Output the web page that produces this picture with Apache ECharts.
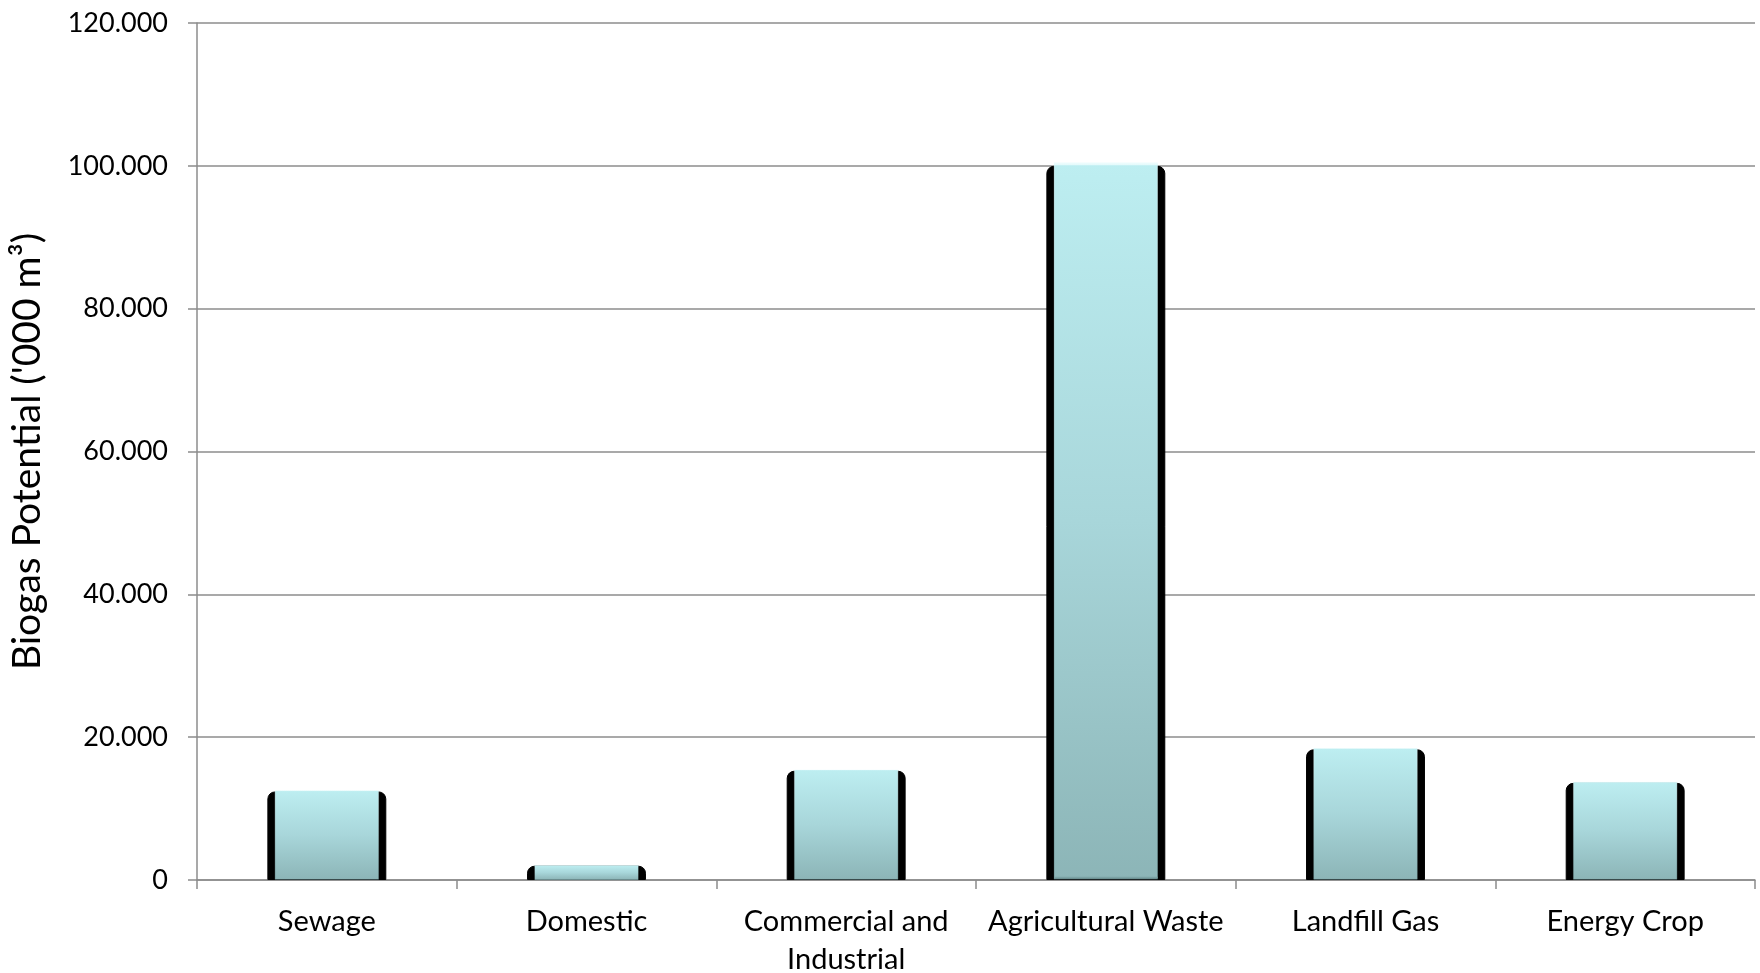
<!DOCTYPE html>
<html>
<head>
<meta charset="utf-8">
<script src="https://cdn.jsdelivr.net/npm/echarts@6/dist/echarts.min.js"></script>
<style>
html,body{margin:0;padding:0;background:#fff;}
#chart{width:1760px;height:973px;}
</style>
</head>
<body>
<div id="chart"></div>
<script>
const categories = ['Sewage', 'Domestic', 'Commercial and\nIndustrial', 'Agricultural Waste', 'Landfill Gas', 'Energy Crop'];
const biogasPotential = [12.4, 2.0, 15.3, 100.0, 18.3, 13.6];
const yAxisTitle = "Biogas Potential ('000 m\u00B3)";

const chart = echarts.init(document.getElementById('chart'));
const FONT = 'Lato, "Open Sans", sans-serif';
const gridColor = '#8c8c8c';

chart.setOption({
  animation: false,
  backgroundColor: '#ffffff',
  grid: { left: 197, right: 5, top: 23, bottom: 93, containLabel: false, outerBoundsMode: 'none' },
  xAxis: {
    type: 'category',
    data: categories,
    boundaryGap: true,
    axisLine: { lineStyle: { color: gridColor, width: 1.5 } },
    axisTick: { show: true, alignWithLabel: false, length: 9, lineStyle: { color: gridColor, width: 1.5 } },
    axisLabel: { color: '#000', fontFamily: FONT, fontSize: 29, margin: 23, lineHeight: 38, interval: 0 }
  },
  yAxis: {
    type: 'value',
    min: 0, max: 120, interval: 20,
    name: yAxisTitle,
    nameLocation: 'middle',
    nameGap: 150,
    nameTextStyle: { color: '#000', fontFamily: FONT, fontSize: 39 },
    axisLine: { show: true, lineStyle: { color: gridColor, width: 1.5 } },
    axisTick: { show: true, length: 9, lineStyle: { color: gridColor, width: 1.5 } },
    splitLine: { lineStyle: { color: gridColor, width: 1.5 } },
    axisLabel: {
      color: '#000', fontFamily: FONT, fontSize: 27, margin: 29,
      formatter: v => v === 0 ? '0' : v.toFixed(3)
    }
  },
  series: [
    {
      type: 'bar',
      data: biogasPotential,
      barWidth: '45.8%',
      z: 2,
      itemStyle: { color: '#000', borderRadius: [7, 7, 0, 0], borderColor: '#000', borderWidth: 1 }
    },
    {
      type: 'pictorialBar',
      data: biogasPotential,
      barWidth: '45.8%',
      symbol: 'rect',
      symbolSize: ['87%', '100%'],
      symbolPosition: 'start',
      z: 3,
      itemStyle: {
        color: new echarts.graphic.LinearGradient(0, 0, 0, 1, [
          { offset: 0, color: '#bdeef1' },
          { offset: 0.5, color: '#a8d6da' },
          { offset: 1, color: '#8cb5b7' }
        ]),
        borderColor: new echarts.graphic.LinearGradient(0, 0, 0, 1, [
          { offset: 0, color: 'rgba(235,252,253,0.9)' },
          { offset: 1, color: 'rgba(120,160,162,0.9)' }
        ]),
        borderWidth: 1.5
      }
    }
  ]
});
</script>
</body>
</html>
